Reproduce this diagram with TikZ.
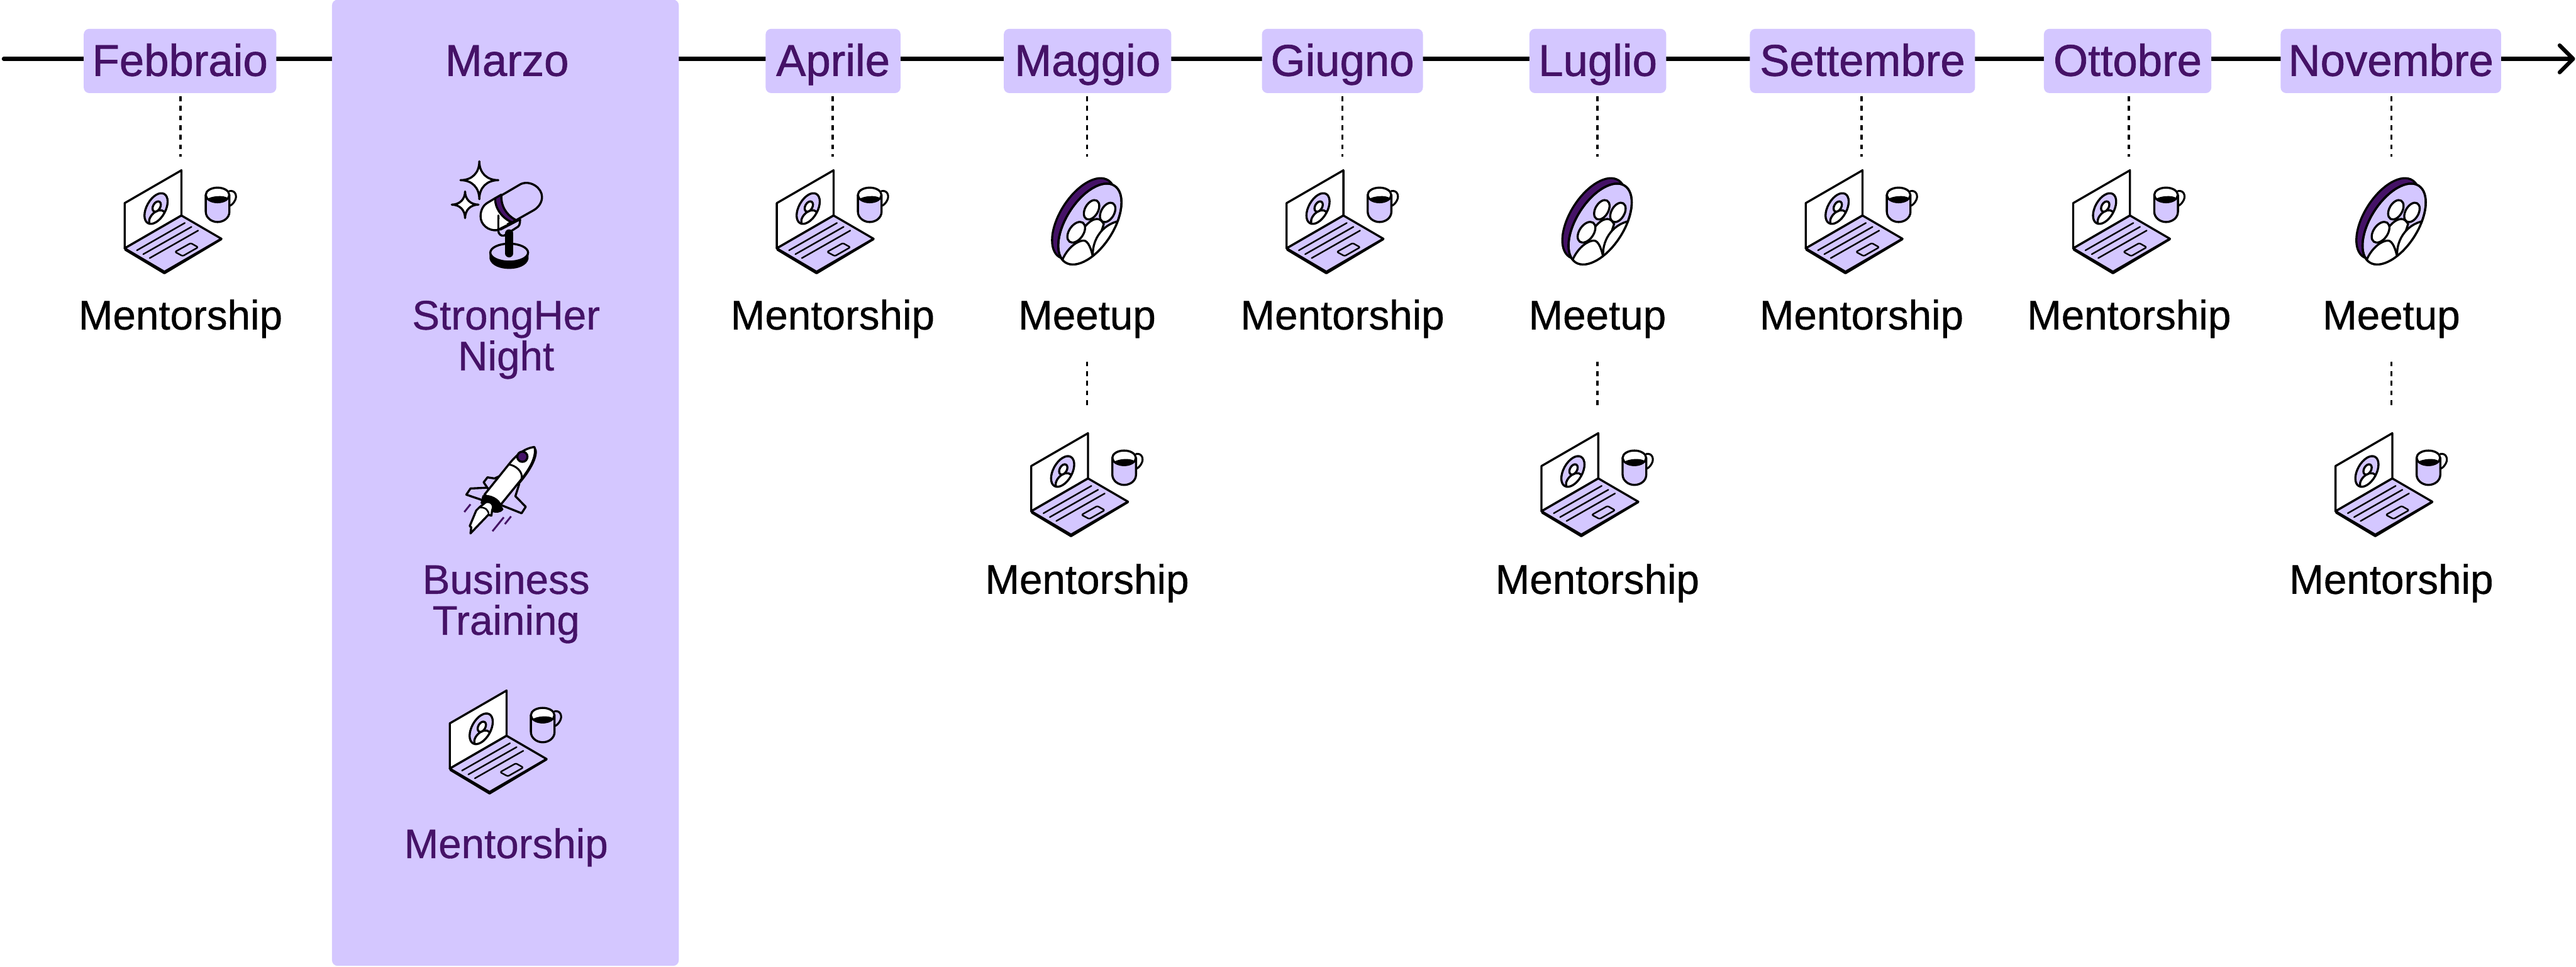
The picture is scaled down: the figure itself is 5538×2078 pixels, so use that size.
\documentclass[tikz,border=0pt]{standalone}
\usepackage{fontspec}
\setmainfont{Liberation Sans}
\usetikzlibrary{arrows.meta}
\definecolor{lilac}{RGB}{212,199,255}
\definecolor{plum}{RGB}{69,18,103}
\newfontfamily\monthface[FakeBold=1.0]{Liberation Sans}
\newfontfamily\labelface[FakeBold=0.6]{Liberation Sans}
\newcommand{\monthfont}{\monthface\fontsize{27.2}{30}\selectfont}
\newcommand{\labelfont}{\labelface\fontsize{25.2}{25}\selectfont}
\tikzset{
  tline/.style={line width=0.085cm,line cap=round,-{Straight Barb[length=0.29cm,width=0.58cm,round]}},
  dots/.style={line width=0.05cm,dash pattern=on 0.103cm off 0.104cm},
  monthbox/.style={fill=lilac,rounded corners=0.12cm,text=plum,font=\monthfont,inner sep=0pt,align=center,text height=1.01cm,text depth=0.37cm},
  lbl/.style={font=\labelfont,anchor=base,inner sep=0pt},
  plbl/.style={font=\labelfont,text=plum,inner sep=0pt,align=center,anchor=base},
  ic/.style={line width=0.045cm,line join=round,line cap=round,draw=black},
  zoomed/.style={x=0.003333cm,y=-0.003333cm},
  laptop/.pic={
    \begin{scope}[zoomed,ic]
      % screen
      \draw[fill=white] (108,290) -- (475,78) -- (475,370) -- (108,582) -- cycle;
      % disc
      \begin{scope}
        \clip[rotate around={61:(311,325)}] (311,325) ellipse [x radius=108,y radius=61];
        \fill[lilac] (200,200) rectangle (420,450);
        \fill[white,draw=black,rotate around={45:(318,388)}] (318,388) ellipse [x radius=62,y radius=40];
      \end{scope}
      \draw[rotate around={61:(311,325)}] (311,325) ellipse [x radius=108,y radius=61];
      \draw[fill=white,rotate around={60:(315,312)}] (315,312) ellipse [x radius=36,y radius=23];
      % base
      \draw[fill=lilac] (108,582) -- (475,370) -- (733,520) -- (365,733) -- cycle;
      \draw[line width=0.05cm] (112,590) -- (365,742) -- (733,522);
      \draw[line width=0.033cm] (187,595) -- (497,418) (228,620) -- (540,443) (270,645) -- (583,467);
      \draw[line width=0.033cm,rounded corners=0.03cm] (433,605) -- (535,548) -- (583,575) -- (483,632) -- cycle;
      % mug
      \draw[line width=0.042cm] (785,212) .. controls (825,205) and (835,245) .. (822,270) .. controls (815,285) and (805,298) .. (790,306);
      \draw[fill=lilac] (632,237) -- (632,345) .. controls (632,385) and (670,412) .. (708,412) .. controls (748,412) and (785,385) .. (785,345) -- (785,237) -- cycle;
      \draw[fill=white] (708,237) ellipse [x radius=76,y radius=47];
      \fill[black] (645,262) .. controls (665,245) and (750,235) .. (775,258) .. controls (760,278) and (730,284) .. (708,284) .. controls (685,284) and (660,278) .. (645,262) -- cycle;
    \end{scope}
  },
  meetup/.pic={
    \begin{scope}[zoomed,ic]
      \draw[fill=plum,rotate around={57.4:(540,390)}] (540,390) ellipse [x radius=294,y radius=153];
      \draw[fill=lilac,rotate around={57.4:(580,425)}] (580,425) ellipse [x radius=294,y radius=153];
      \begin{scope}
        \clip[rotate around={57.4:(580,425)}] (580,425) ellipse [x radius=294,y radius=153];
        \draw[fill=white] (490,560) .. controls (510,480) and (570,395) .. (625,392) .. controls (650,392) and (660,410) .. (670,425) -- (600,640) -- cycle;
        \draw[fill=white] (405,650) .. controls (440,575) and (500,532) .. (540,532) .. controls (570,532) and (590,590) .. (600,640) -- (640,720) -- (400,720) -- cycle;
        \draw[fill=white] (600,640) .. controls (590,540) and (650,430) .. (770,405) -- (820,500) -- (620,720) -- cycle;
      \end{scope}
      \draw[rotate around={57.4:(580,425)}] (580,425) ellipse [x radius=294,y radius=153];
      \draw[fill=white,rotate around={60:(591,333)}] (591,333) ellipse [x radius=68,y radius=42];
      \draw[fill=white,rotate around={60:(695,350)}] (695,350) ellipse [x radius=68,y radius=42];
      \draw[fill=white,rotate around={55:(492,478)}] (492,478) ellipse [x radius=75,y radius=46];
    \end{scope}
  },
  mic/.pic={
    \begin{scope}[zoomed,ic]
      % sparkles
      \draw[fill=white] (392,140) .. controls (392,215) and (440,262) .. (515,262) .. controls (440,262) and (392,310) .. (392,385) .. controls (392,310) and (345,262) .. (270,262) .. controls (345,262) and (392,215) .. (392,140) -- cycle;
      \draw[fill=white] (300,335) .. controls (300,385) and (335,420) .. (387,420) .. controls (335,420) and (300,455) .. (300,507) .. controls (300,455) and (265,420) .. (214,420) .. controls (265,420) and (300,385) .. (300,335) -- cycle;
      % stand base
      \fill[black] (458,735) .. controls (458,700) and (710,700) .. (710,735) -- (710,770) .. controls (700,815) and (640,835) .. (585,835) .. controls (530,835) and (468,815) .. (458,770) -- cycle;
      \draw[fill=lilac] (585,730) ellipse [x radius=122,y radius=58];
      % head
      \draw[fill=white] (495,378) -- (445,408) .. controls (415,425) and (400,460) .. (400,495) .. controls (400,550) and (450,590) .. (505,585) -- (640,510) -- cycle;
      \draw[fill=plum] (495,378) -- (535,355) .. controls (530,420) and (570,490) .. (630,518) -- (605,535) .. controls (540,510) and (490,440) .. (495,378) -- cycle;
      \draw[fill=lilac] (535,360) -- (660,287) .. controls (720,260) and (797,310) .. (797,370) .. controls (797,410) and (770,440) .. (745,455) -- (630,520) .. controls (570,490) and (530,430) .. (535,360) -- cycle;
      % cradle
      \draw[fill=lilac] (515,490) -- (515,590) .. controls (515,610) and (535,625) .. (552,620) -- (630,570) .. controls (650,560) and (655,550) .. (655,515) -- (530,580) .. controls (520,585) and (518,570) .. (515,490) -- cycle;
      \fill[white] (521,512) -- (521,570) -- (572,545) -- cycle;
      % stem
      \draw[line width=0.17cm,line cap=round] (585,605) -- (585,735);
    \end{scope}
  },
  rocket/.pic={
    \begin{scope}[zoomed,ic]
      % wings
      \draw[fill=lilac,line width=0.045cm] (440,445) -- (335,450) -- (308,490) -- (420,528);
      \draw[fill=lilac,line width=0.045cm] (535,365) -- (490,385) -- (445,378) -- (420,410) -- (465,475);
      \draw[fill=lilac,line width=0.045cm] (650,420) -- (625,500) -- (692,568) -- (665,610) -- (540,560);
      % body
      \draw[fill=white] (748,182) .. controls (680,190) and (625,240) .. (582,295) -- (425,490) -- (530,555) -- (660,395) .. controls (720,320) and (765,240) .. (748,182) -- cycle;
      \fill[black] (745,180) .. controls (780,190) and (775,280) .. (650,425) -- (655,395) .. controls (715,320) and (755,245) .. (745,180) -- cycle;
      \draw[line width=0.04cm] (582,295) .. controls (625,300) and (675,340) .. (665,385);
      \draw[fill=plum] (670,245) ellipse [x radius=33,y radius=33];
      % engine
      \fill[black] (412,495) .. controls (460,480) and (530,520) .. (532,555) -- (548,585) .. controls (530,612) and (495,610) .. (470,600) -- (400,545) -- cycle;
      % flame
      \draw[fill=white] (335,740) -- (340,700) -- (330,693) -- (372,592) -- (392,572) -- (435,538) .. controls (470,530) and (490,560) .. (475,590) -- (470,625) -- (450,620) -- cycle;
      \draw[line width=0.035cm] (392,572) .. controls (430,570) and (455,590) .. (452,622);
      % speed
      \draw[draw=plum,line width=0.04cm,line cap=butt] (295,602) -- (335,552) (477,726) -- (550,636) (557,680) -- (597,630);
    \end{scope}
  },
}
\begin{document}
\begin{tikzpicture}[x=0.01cm,y=-0.01cm]
\useasboundingbox (0,0) rectangle (5538,2078);
\fill[white] (0,0) rectangle (5538,2078);
% time line
\coordinate (tlstart) at (8,126.5);
\coordinate (tlend) at (5536,126.5);
\draw[tline] (tlstart) -- (tlend);
% March panel
\node[fill=lilac,rounded corners=0.12cm,inner sep=0pt,minimum width=7.45cm,minimum height=20.75cm] (marzopanel) at (1086.5,1037.5) {};
\node[lbl,font=\monthfont,text=plum] (marzo) at (1090,163) {Marzo};
% month boxes
\foreach \n/\t/\c/\w/\d in {feb/Febbraio/387/414/388,apr/Aprile/1791/290/1790,mag/Maggio/2338/360/2337,giu/Giugno/2886/346/2886,lug/Luglio/3435/294/3434,set/Settembre/4004/484/4002,ott/Ottobre/4574/360/4577,nov/Novembre/5140/474/5141}{
  \node[monthbox,text width=\w*0.01cm] (\n) at (\c,131) {\t};
  \coordinate (\n-end) at (\d,336);
  \draw[dots] (\d,207) -- (\n-end);
}
% first row icons and labels
\foreach \n/\c in {feb/388,apr/1790,giu/2886,set/4002,ott/4577}{
  \pic at (\c-156,340) {laptop};
  \node[lbl] (\n-m) at (\c,708) {Mentorship};
}
\foreach \n/\c in {mag/2337,lug/3434,nov/5141}{
  \pic at (\c-187,340) {meetup};
  \node[lbl] (\n-t) at (\c,708) {Meetup};
  \coordinate (\n-b) at (\c,872);
  \draw[dots] (\n-t |- 0,777) -- (\n-b);
  \pic at (\c-156,905) {laptop};
  \node[lbl] (\n-m) at (\c,1276) {Mentorship};
}
% March contents
\pic at (900,300) {mic};
\node[plbl] (night) at (1088,796) {StrongHer\\[0pt]Night};
\pic at (900,900) {rocket};
\node[plbl] (training) at (1088,1364) {Business\\[0pt]Training};
\pic at (931,1458) {laptop};
\node[plbl] (mmar) at (1088,1844) {Mentorship};
\end{tikzpicture}
\end{document}
